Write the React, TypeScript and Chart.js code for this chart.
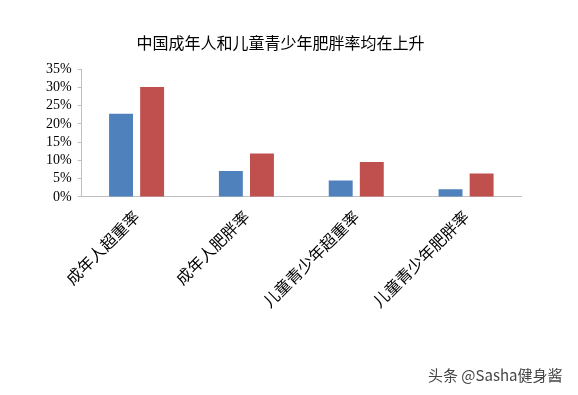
import React, { useEffect, useRef } from "react";
import { Chart, registerables } from "chart.js";

Chart.register(...registerables);

const categories = ["成年人超重率", "成年人肥胖率", "儿童青少年超重率", "儿童青少年肥胖率"];
const seriesBlue = [0.228, 0.071, 0.045, 0.021];
const seriesRed = [0.301, 0.119, 0.096, 0.064];
const titleText = "中国成年人和儿童青少年肥胖率均在上升";
const watermark = "头条 @Sasha健身酱";

export default function App() {
  const ref = useRef<HTMLCanvasElement | null>(null);

  useEffect(() => {
    if (!ref.current) return;
    const chart = new Chart(ref.current, {
      type: "bar",
      data: {
        labels: categories,
        datasets: [
          { label: "A", data: seriesBlue, backgroundColor: "#4F81BD", borderWidth: 0, categoryPercentage: 0.566, barPercentage: 0.77 },
          { label: "B", data: seriesRed, backgroundColor: "#C0504D", borderWidth: 0, categoryPercentage: 0.566, barPercentage: 0.77 },
        ],
      },
      options: {
        animation: false,
        responsive: false,
        maintainAspectRatio: false,
        layout: { padding: { top: 33, left: 40, right: 57, bottom: 74 } },
        plugins: {
          legend: { display: false },
          tooltip: { enabled: false },
          title: {
            display: true,
            text: titleText,
            color: "#000",
            font: { family: "'Noto Sans CJK SC', sans-serif", size: 16, weight: "normal" },
            padding: { top: 0, bottom: 17 },
          },
        },
        scales: {
          x: {
            grid: { display: false, drawTicks: false },
            border: { display: true, color: "#bfbfbf", width: 1 },
            ticks: {
              color: "#000",
              font: { family: "'Noto Sans CJK SC', sans-serif", size: 16 },
              maxRotation: 45,
              minRotation: 45,
              padding: 10,
              autoSkip: false,
            },
          },
          y: {
            min: 0,
            max: 0.35,
            grid: { display: true, drawOnChartArea: false, drawTicks: true, tickLength: 4, color: "#bfbfbf" },
            border: { display: true, color: "#bfbfbf", width: 1 },
            ticks: {
              stepSize: 0.05,
              autoSkip: false,
              color: "#000",
              padding: 6,
              font: { family: "'Liberation Serif', serif", size: 14 },
              callback: (v: any) => Math.round(Number(v) * 100) + "%",
            },
          },
        },
      },
    });
    return () => chart.destroy();
  }, []);

  return (
    <div style={{ position: "fixed", left: 0, top: 0, width: 578, height: 395, background: "#fff" }}>
      <canvas ref={ref} width={578} height={395} style={{ width: 578, height: 395 }} />
      <div
        style={{
          position: "absolute",
          left: 428,
          top: 364,
          fontFamily: "'Noto Sans CJK SC', sans-serif",
          fontSize: 15,
          color: "#444",
          textShadow: "0 0 2px #fff",
          whiteSpace: "nowrap",
        }}
      >
        {watermark}
      </div>
    </div>
  );
}
